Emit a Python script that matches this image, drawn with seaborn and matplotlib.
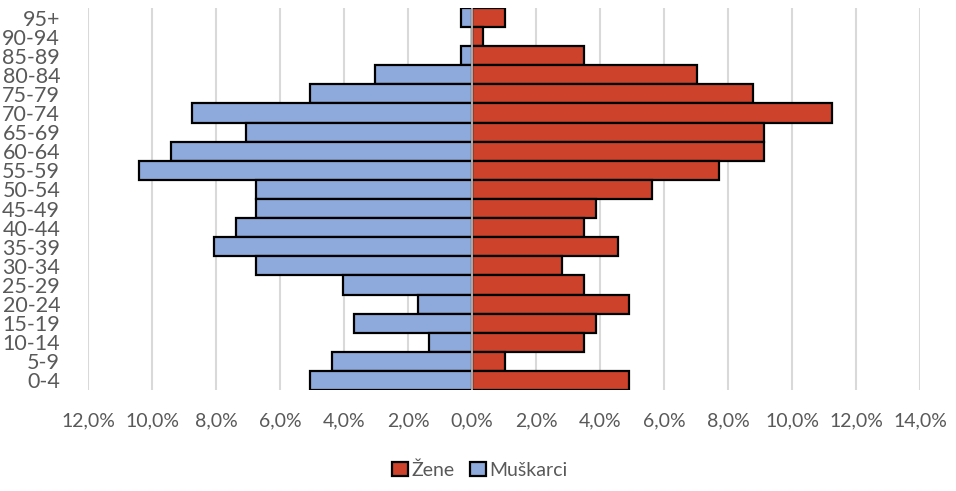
import matplotlib
matplotlib.use("Agg")
import matplotlib.pyplot as plt
import seaborn as sns
import pandas as pd
from matplotlib.ticker import FuncFormatter

age_groups = ["95+", "90-94", "85-89", "80-84", "75-79", "70-74", "65-69", "60-64",
              "55-59", "50-54", "45-49", "40-44", "35-39", "30-34", "25-29", "20-24",
              "15-19", "10-14", "5-9", "0-4"]
muskarci = [0.33, 0.0, 0.33, 3.02, 5.05, 8.74, 7.05, 9.42, 10.42, 6.74,
            6.74, 7.39, 8.07, 6.74, 4.03, 1.69, 3.69, 1.34, 4.37, 5.05]
zene = [1.04, 0.33, 3.51, 7.03, 8.79, 11.26, 9.13, 9.13, 7.73, 5.63,
        3.88, 3.51, 4.57, 2.80, 3.51, 4.92, 3.88, 3.51, 1.04, 4.92]
series_names = ["Žene", "Muškarci"]
x_ticks = [-12, -10, -8, -6, -4, -2, 0, 2, 4, 6, 8, 10, 12, 14]

df = pd.DataFrame({
    "age": age_groups * 2,
    "value": zene + [-v for v in muskarci],
    "sex": ["Žene"] * len(age_groups) + ["Muškarci"] * len(age_groups),
})

sns.set_theme(style="white")
plt.rcParams["font.family"] = ["Lato", "DejaVu Sans"]

fig = plt.figure(figsize=(9.56, 4.91), dpi=100)
ax = fig.add_axes([88 / 956, 1 - 390 / 491, (920 - 88) / 956, (390 - 8) / 491])

palette = {"Žene": "#CD422B", "Muškarci": "#8EA9DB"}
sns.barplot(data=df, x="value", y="age", hue="sex", order=age_groups,
            hue_order=series_names, palette=palette, dodge=False, width=1.0,
            orient="h", edgecolor="black", linewidth=1.6, saturation=1,
            ax=ax, zorder=3)

ax.set_xlim(-12, 14)
ax.set_xticks(x_ticks)
ax.xaxis.set_major_formatter(FuncFormatter(lambda v, p: f"{abs(v):.1f}%".replace(".", ",")))
ax.grid(axis="x", color="#D9D9D9", linewidth=1.5, zorder=0)
ax.grid(axis="y", visible=False)
ax.set_axisbelow(True)
ax.axvline(0, color="#A6A6A6", linewidth=1.5, zorder=5)
for s in ax.spines.values():
    s.set_visible(False)
ax.set_xlabel("")
ax.set_ylabel("")
ax.tick_params(axis="x", length=0, pad=16, labelsize=14, labelcolor="#595959")
ax.tick_params(axis="y", length=0, pad=20, labelsize=15.5, labelcolor="#595959")
ax.set_ylim(len(age_groups) - 0.5, -0.5)

handles, labels = ax.get_legend_handles_labels()
ax.legend(handles, labels, loc="center", bbox_to_anchor=(480 / 956, 1 - 470 / 491),
          bbox_transform=fig.transFigure, ncol=2, frameon=False, fontsize=14,
          handlelength=0.8, handleheight=0.8, handletextpad=0.2, columnspacing=0.8,
          labelcolor="#595959")

fig.savefig("out.png", dpi=100)
